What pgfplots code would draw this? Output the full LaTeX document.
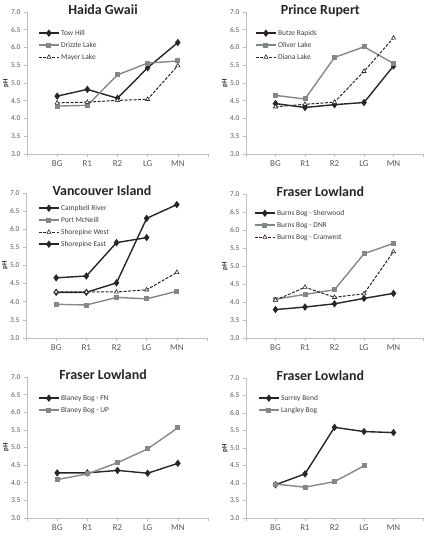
\documentclass[border=0pt]{standalone}
\usepackage{pgfplots}
\pgfplotsset{compat=1.18}
\usepackage{fontspec}
\setmainfont{Carlito}

\definecolor{ink}{HTML}{262626}
\definecolor{slate}{HTML}{7F8B89}
\definecolor{axisgray}{HTML}{BFBFBF}
\definecolor{ticktext}{HTML}{595959}
\definecolor{legtext}{HTML}{404040}

\pgfplotsset{
  phpanel/.style={
    scale only axis,
    anchor=south west,
    width=181bp, height=142bp,
    xmin=-1, xmax=5, ymin=3, ymax=7,
    axis lines*=left,
    axis line style={draw=axisgray, line width=0.8bp, -},
    xtick={-1,0,1,2,3,4,5},
    xticklabels={,BG,R1,R2,LG,MN,},
    ytick={3,3.5,4,4.5,5,5.5,6,6.5,7},
    tick align=outside,
    major tick length=3bp,
    tick style={draw=axisgray, line width=0.6bp},
    xticklabel style={font=\fontsize{9}{10}\selectfont, text=ticktext},
    yticklabel style={font=\fontsize{7.5}{8}\selectfont, text=ticktext,
      /pgf/number format/fixed, /pgf/number format/fixed zerofill,
      /pgf/number format/precision=1, /pgf/number format/assume math mode=true},
    ylabel={pH},
    ylabel style={font=\fontsize{7}{8}\selectfont\bfseries, text=ink,
      at={(axis description cs:0,0.5)}, anchor=center, yshift=21bp},
    every axis title shift=0pt,
    title style={font=\fontsize{14}{16}\selectfont\bfseries, text=ink,
      at={(axis description cs:0.42,1)}, anchor=base, yshift=-2.5bp},
    legend cell align=left,
    legend style={draw=none, fill=none, at={(axis description cs:0,1)},
      anchor=north west, font=\fontsize{7.5}{9}\selectfont, text=legtext,
      row sep=4bp,
      nodes={inner xsep=1.5bp, inner ysep=0pt, text height=6bp, text depth=2bp}},
    legend image code/.code={
      \draw[mark repeat=2, mark phase=2, #1]
        plot coordinates {(0bp,0bp) (10bp,0bp) (20bp,0bp)};},
  },
  blk/.style={color=ink, line width=1.4bp, mark=diamond*, mark size=2.6bp,
    mark options={solid, fill=ink}},
  gry/.style={color=slate, line width=1.4bp, mark=square*, mark size=1.8bp,
    mark options={solid, fill=slate}},
  dsh/.style={color=ink, line width=1bp, dash pattern=on 3bp off 1.5bp,
    mark=triangle*, mark size=2.4bp,
    mark options={solid, fill=white, line width=0.6bp}},
}

\begin{document}
\begin{tikzpicture}
\useasboundingbox (0,0) rectangle (428bp,537bp);

% Haida Gwaii
\begin{axis}[phpanel, at={(27bp,383bp)}, title={Haida Gwaii},
  legend style={xshift=8bp, yshift=-15bp}]
\addplot[blk] coordinates {(0,4.63) (1,4.82) (2,4.57) (3,5.43) (4,6.14)};
\addlegendentry{Tow Hill}
\addplot[gry] coordinates {(0,4.35) (1,4.37) (2,5.23) (3,5.56) (4,5.62)};
\addlegendentry{Drizzle Lake}
\addplot[dsh] coordinates {(0,4.44) (1,4.46) (2,4.51) (3,4.54) (4,5.49)};
\addlegendentry{Mayer Lake}
\end{axis}

% Prince Rupert
\begin{axis}[phpanel, at={(246bp,383bp)}, width=177bp, title={Prince Rupert},
  legend style={xshift=6bp, yshift=-15bp}]
\addplot[blk] coordinates {(0,4.42) (1,4.31) (2,4.39) (3,4.45) (4,5.48)};
\addlegendentry{Butze Rapids}
\addplot[gry] coordinates {(0,4.65) (1,4.55) (2,5.72) (3,6.02) (4,5.55)};
\addlegendentry{Oliver Lake}
\addplot[dsh] coordinates {(0,4.33) (1,4.40) (2,4.46) (3,5.33) (4,6.27)};
\addlegendentry{Diana Lake}
\end{axis}

% Vancouver Island
\begin{axis}[phpanel, at={(26bp,199bp)}, height=145bp, title={Vancouver Island},
  legend style={xshift=9bp, yshift=-9bp}]
\addplot[blk] coordinates {(0,4.26) (1,4.26) (2,4.52) (3,6.30) (4,6.68)};
\addlegendentry{Campbell River}
\addplot[gry] coordinates {(0,3.93) (1,3.91) (2,4.12) (3,4.08) (4,4.29)};
\addlegendentry{Port McNeill}
\addplot[dsh] coordinates {(0,4.27) (1,4.27) (2,4.27) (3,4.33) (4,4.81)};
\addlegendentry{Shorepine West}
\addplot[blk] coordinates {(0,4.66) (1,4.71) (2,5.63) (3,5.77)};
\addlegendentry{Shorepine East}
\end{axis}

% Fraser Lowland: Burns Bog
\begin{axis}[phpanel, at={(246bp,199bp)}, width=177bp, height=144bp,
  title={Fraser Lowland}, legend style={xshift=5bp, yshift=-13bp}]
\addplot[blk] coordinates {(0,3.79) (1,3.86) (2,3.95) (3,4.10) (4,4.24)};
\addlegendentry{Burns Bog - Sherwood}
\addplot[gry] coordinates {(0,4.08) (1,4.21) (2,4.34) (3,5.34) (4,5.63)};
\addlegendentry{Burns Bog - DNR}
\addplot[dsh] coordinates {(0,4.05) (1,4.41) (2,4.13) (3,4.23) (4,5.40)};
\addlegendentry{Burns Bog - Cranwest}
\end{axis}

% Fraser Lowland: Blaney Bog
\begin{axis}[phpanel, at={(27bp,19bp)}, height=141bp,
  title={Fraser Lowland}, legend style={xshift=8bp, yshift=-15bp}]
\addplot[blk] coordinates {(0,4.28) (1,4.28) (2,4.35) (3,4.27) (4,4.55)};
\addlegendentry{Blaney Bog - FN}
\addplot[gry] coordinates {(0,4.09) (1,4.25) (2,4.57) (3,4.96) (4,5.56)};
\addlegendentry{Blaney Bog - UP}
\end{axis}

% Fraser Lowland: Surrey Bend and Langley Bog
\begin{axis}[phpanel, at={(246bp,19bp)}, width=177bp, height=140bp,
  title={Fraser Lowland}, legend style={xshift=9bp, yshift=-14bp}]
\addplot[blk] coordinates {(0,3.95) (1,4.26) (2,5.59) (3,5.47) (4,5.44)};
\addlegendentry{Surrey Bend}
\addplot[gry] coordinates {(0,3.97) (1,3.88) (2,4.04) (3,4.49)};
\addlegendentry{Langley Bog}
\end{axis}
\end{tikzpicture}
\end{document}
